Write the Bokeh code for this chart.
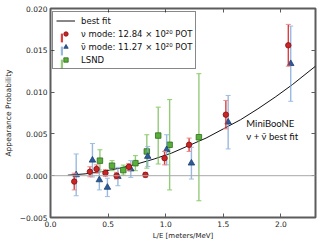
from bokeh.plotting import figure
from bokeh.models import (ColumnDataSource, Span, Label, Legend, LegendItem, FixedTicker,
                          CustomJSTickFormatter, LinearAxis, Range1d)
from bokeh.embed import file_html
from bokeh.resources import INLINE

# ---- data ----
nu_x = [0.206, 0.342, 0.400, 0.477, 0.573, 0.680, 0.824, 0.990, 1.203, 1.522, 2.064]
nu_y = [-0.0007, 0.00047, 0.0008, 0.00032, 0.0, 0.00106, 0.0001, 0.0021, 0.0037, 0.0073, 0.0156]
nu_err = [0.0010, 0.0006, 0.0005, 0.0004, 0.0004, 0.0004, 0.0003, 0.0008, 0.0008, 0.0017, 0.0025]

nubar_x = [0.223, 0.364, 0.424, 0.494, 0.585, 0.697, 0.844, 1.008, 1.223, 1.542, 2.085]
nubar_y = [0.0001, 0.00185, -0.0005, -0.0014, -0.0001, 0.0008, 0.0023, 0.0031, 0.0015, 0.0064, 0.0134]
nubar_err = [0.0025, 0.0020, 0.0012, 0.0011, 0.0011, 0.0010, 0.0012, 0.0018, 0.0019, 0.0032, 0.0045]

lsnd_x = [0.429, 0.534, 0.632, 0.737, 0.836, 0.935, 1.034, 1.288]
lsnd_y = [0.0018, 0.0012, 0.00067, 0.0015, 0.0029, 0.0048, 0.0037, 0.0046]
lsnd_err = [0.0013, 0.0006, 0.0006, 0.0009, 0.0020, 0.0034, 0.0054, 0.0076]

fit_x = [0.15, 0.3, 0.45, 0.6, 0.75, 0.9, 1.05, 1.2, 1.35, 1.5, 1.65, 1.8, 1.95, 2.1, 2.3]
fit_y = [0.00006, 0.00022, 0.0005, 0.0009, 0.0014, 0.002, 0.0027, 0.0036, 0.0045,
         0.0056, 0.0067, 0.008, 0.0094, 0.0109, 0.0131]

x_ticks = [0.0, 0.5, 1.0, 1.5, 2.0]
y_ticks = [-0.005, 0.0, 0.005, 0.010, 0.015, 0.020]

label_fit = "best fit"
label_nu = "\u03bd mode: 12.84 \u00d7 10\u00b2\u2070 POT"
label_nubar = "\u03bd\u0304 mode: 11.27 \u00d7 10\u00b2\u2070 POT"
label_lsnd = "LSND"

FRAME = "#5c5c5c"
FONT = "DejaVu Sans"

p = figure(width=321, height=242, output_backend="svg", toolbar_location=None,
           x_range=Range1d(0, 2.3), y_range=Range1d(-0.005, 0.020),
           min_border_left=44, min_border_right=6, min_border_top=8, min_border_bottom=22)
p.xgrid.visible = False
p.ygrid.visible = False
p.outline_line_color = FRAME
p.outline_line_width = 2
p.background_fill_color = "white"
p.border_fill_color = "white"


def style_axis(ax, ticks, fmt, show_labels=True):
    ax.ticker = FixedTicker(ticks=ticks)
    ax.formatter = CustomJSTickFormatter(code=fmt)
    ax.axis_line_color = None
    ax.major_tick_in = 4
    ax.major_tick_out = 0
    ax.major_tick_line_color = FRAME
    ax.minor_tick_line_color = None
    ax.major_label_text_font = FONT
    ax.major_label_text_color = "#222222"
    ax.major_label_text_font_size = "7.5px"
    ax.major_label_standoff = 3 if show_labels else 0


xfmt = "return tick.toFixed(1);"
yfmt = "return tick.toFixed(3).replace('-', '\\u2212');"
nofmt = "return '';"

style_axis(p.xaxis[0], x_ticks, xfmt)
style_axis(p.yaxis[0], y_ticks, yfmt)
p.xaxis.axis_label = "L/E [meters/MeV]"
p.yaxis.axis_label = "Appearance Probability"
for ax in (p.xaxis[0], p.yaxis[0]):
    ax.axis_label_text_font = FONT
    ax.axis_label_text_font_style = "normal"
    ax.axis_label_text_color = "#222222"
p.xaxis.axis_label_standoff = 2
p.yaxis.axis_label_standoff = 4
p.xaxis.axis_label_text_font_size = "7px"
p.yaxis.axis_label_text_font_size = "7.5px"

top_ax = LinearAxis()
style_axis(top_ax, x_ticks, nofmt, show_labels=False)
p.add_layout(top_ax, "above")
right_ax = LinearAxis()
style_axis(right_ax, y_ticks, nofmt, show_labels=False)
p.add_layout(right_ax, "right")

# zero line
p.add_layout(Span(location=0, dimension="width", line_color="#a8a8a8", line_width=1))

# best fit curve
fit_r = p.line(fit_x, fit_y, line_color="#111111", line_width=1)


def series(xs, ys, errs, bar_color, bar_alpha, cap_color, marker, size, fill, edge):
    hi = [y + e for y, e in zip(ys, errs)]
    lo = [y - e for y, e in zip(ys, errs)]
    h = [2 * e for e in errs]
    src = ColumnDataSource(dict(x=xs, y=ys, hi=hi, lo=lo, h=h))
    bar = p.rect(x="x", y="y", width=1.4, width_units="screen", height="h", source=src,
                 fill_color=bar_color, fill_alpha=bar_alpha, line_color=None)
    p.scatter(x="x", y="hi", source=src, marker="dash", size=5, line_color=cap_color,
              line_width=1)
    p.scatter(x="x", y="lo", source=src, marker="dash", size=5, line_color=cap_color,
              line_width=1)
    mk = p.scatter(x="x", y="y", source=src, marker=marker, size=size, fill_color=fill,
                   line_color=edge, line_width=0.8)
    return bar, mk


lsnd_bar, lsnd_mk = series(lsnd_x, lsnd_y, lsnd_err, "#72b84f", 0.75, "#8ccc6c",
                           "square", 5.5, "#5aae3a", "#2d6b1f")
nubar_bar, nubar_mk = series(nubar_x, nubar_y, nubar_err, "#7fa8d8", 0.8, "#9dbde2",
                             "triangle", 6.5, "#2b5c9b", "#1d3f6e")
nu_bar, nu_mk = series(nu_x, nu_y, nu_err, "#d82a2a", 0.9, "#f08a8a",
                       "circle", 5.5, "#cc2424", "#7d1212")

LEG_X = 2
LEG_Y = 148
leg_common = dict(glyph_height=11, label_height=11, spacing=2, padding=3, margin=0,
                  label_standoff=6, label_text_font=FONT, label_text_font_size="8.5px")

# error-bar glyphs for the legend (drawn first, beneath the markers)
leg_b = Legend(items=[LegendItem(label="", renderers=[nu_bar]),
                      LegendItem(label="", renderers=[nubar_bar]),
                      LegendItem(label="", renderers=[lsnd_bar])],
               location=(LEG_X + 8, LEG_Y), glyph_width=3,
               border_line_color=None, background_fill_alpha=0, **leg_common)
leg_a = Legend(items=[LegendItem(label=label_fit, renderers=[fit_r]),
                      LegendItem(label=label_nu, renderers=[nu_mk]),
                      LegendItem(label=label_nubar, renderers=[nubar_mk]),
                      LegendItem(label=label_lsnd, renderers=[lsnd_mk])],
               location=(LEG_X, LEG_Y), glyph_width=19, label_text_color="#111111",
               border_line_color="#111111", border_line_width=1,
               background_fill_alpha=0, **leg_common)
p.add_layout(leg_b, "center")
p.add_layout(leg_a, "center")

p.add_layout(Label(x=1.70, y=0.0062, text="MiniBooNE", text_font="Lato",
                   text_font_size="9.5px", text_baseline="middle", text_color="#111111"))
p.add_layout(Label(x=1.70, y=0.0047, text="\u03bd + \u03bd\u0304 best fit", text_font="Lato",
                   text_font_size="9.5px", text_baseline="middle", text_color="#111111"))

open("out.html", "w").write(file_html(p, INLINE))
